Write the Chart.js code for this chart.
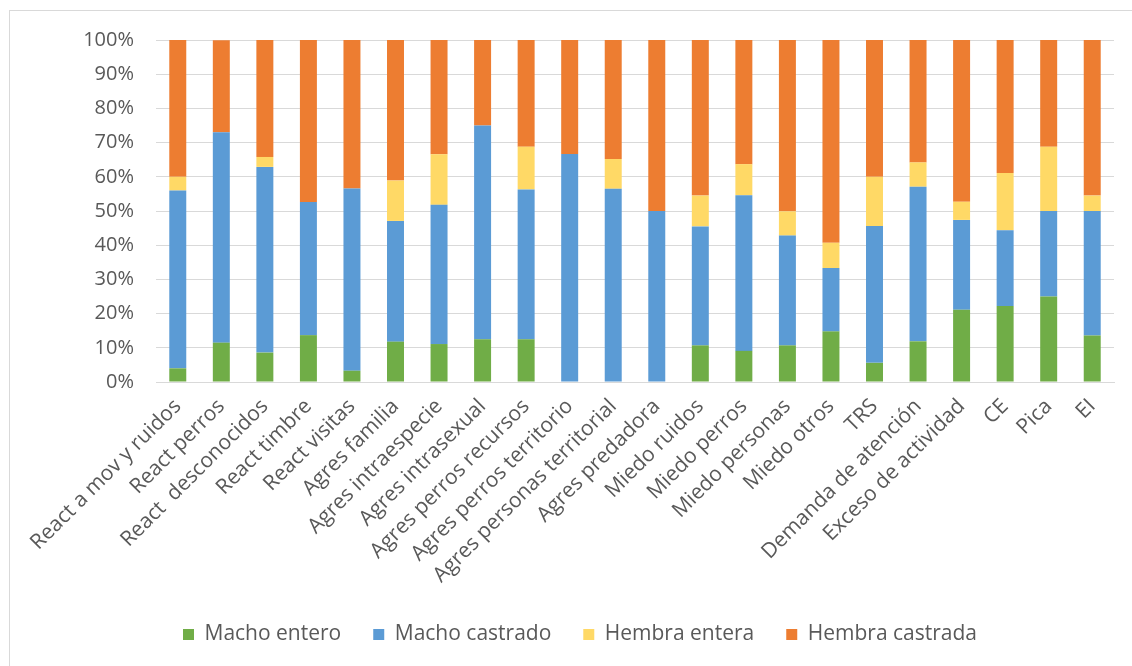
<!DOCTYPE html>
<html>
<head>
<meta charset="utf-8">
<script src="https://cdn.jsdelivr.net/npm/chart.js@4"></script>
<style>
  html, body { margin: 0; padding: 0; background: #fff; overflow: hidden; }
  #frame { position: absolute; left: 9px; top: 10px; width: 1200px; height: 700px; border: 1px solid #d9d9d9; box-sizing: border-box; }
  #wrap { position: absolute; left: 0; top: 0; width: 1132px; height: 666px; }
</style>
</head>
<body>
<div id="frame"></div>
<div id="wrap"><canvas id="c" width="1132" height="666"></canvas></div>
<script>
const categories = ["React a mov y ruidos","React perros","React  desconocidos","React timbre","React visitas","Agres familia","Agres intraespecie","Agres intrasexual","Agres perros recursos","Agres perros territorio","Agres personas territorial","Agres predadora","Miedo ruidos","Miedo perros","Miedo personas","Miedo otros","TRS","Demanda de atención","Exceso de actividad","CE","Pica","EI"];
const machoEntero    = [4.0, 11.5, 8.6, 13.7, 3.3, 11.8, 11.1, 12.5, 12.5, 0, 0, 0, 10.7, 9.1, 10.7, 14.8, 5.6, 11.9, 21.1, 22.2, 25.0, 13.6];
const machoCastrado  = [52.0, 61.5, 54.3, 38.9, 53.3, 35.3, 40.7, 62.5, 43.8, 66.7, 56.5, 50.0, 34.8, 45.5, 32.1, 18.5, 40.0, 45.2, 26.3, 22.2, 25.0, 36.4];
const hembraEntera   = [4.0, 0, 2.9, 0, 0, 11.8, 14.8, 0, 12.5, 0, 8.7, 0, 9.0, 9.1, 7.1, 7.4, 14.4, 7.1, 5.3, 16.7, 18.8, 4.5];
const hembraCastrada = [40.0, 26.9, 34.2, 47.4, 43.4, 41.1, 33.4, 25.0, 31.2, 33.3, 34.8, 50.0, 45.5, 36.3, 50.1, 59.3, 40.0, 35.8, 47.3, 38.9, 31.2, 45.5];
const seriesNames = ["Macho entero", "Macho castrado", "Hembra entera", "Hembra castrada"];
const yTicks = [0,10,20,30,40,50,60,70,80,90,100];

const colors = ["#70AD47", "#5B9BD5", "#FFD966", "#ED7D31"];
const seriesData = [machoEntero, machoCastrado, hembraEntera, hembraCastrada];
const FONT = "'Open Sans', sans-serif";

new Chart(document.getElementById('c'), {
  type: 'bar',
  data: {
    labels: categories,
    datasets: seriesNames.map((n, i) => ({
      label: n,
      data: seriesData[i],
      backgroundColor: colors[i],
      borderWidth: 0,
      barPercentage: 0.39,
      categoryPercentage: 1.0
    }))
  },
  options: {
    responsive: false,
    animation: false,
    layout: { padding: { left: 46, right: 18, top: 40, bottom: 11 } },
    plugins: {
      legend: {
        position: 'bottom',
        labels: {
          font: { family: FONT, size: 21 },
          color: '#595959',
          boxWidth: 11,
          boxHeight: 11,
          padding: 32
        }
      },
      tooltip: { enabled: false }
    },
    scales: {
      x: {
        stacked: true,
        grid: { display: false, drawTicks: false },
        border: { color: '#d9d9d9', width: 1 },
        ticks: {
          font: { family: FONT, size: 21 },
          color: '#595959',
          maxRotation: 45,
          minRotation: 45,
          autoSkip: false,
          padding: 12
        },
        afterFit: (s) => { s.height = 210; }
      },
      y: {
        stacked: true,
        min: 0,
        max: 100,
        afterBuildTicks: (s) => { s.ticks = yTicks.map(v => ({ value: v })); },
        grid: { color: '#d9d9d9', lineWidth: 1, drawTicks: false },
        border: { display: false },
        ticks: {
          font: { family: FONT, size: 20 },
          color: '#595959',
          padding: 22,
          callback: (v) => v + '%'
        },
        afterFit: (s) => { s.width = 110; }
      }
    }
  }
});
</script>
</body>
</html>
